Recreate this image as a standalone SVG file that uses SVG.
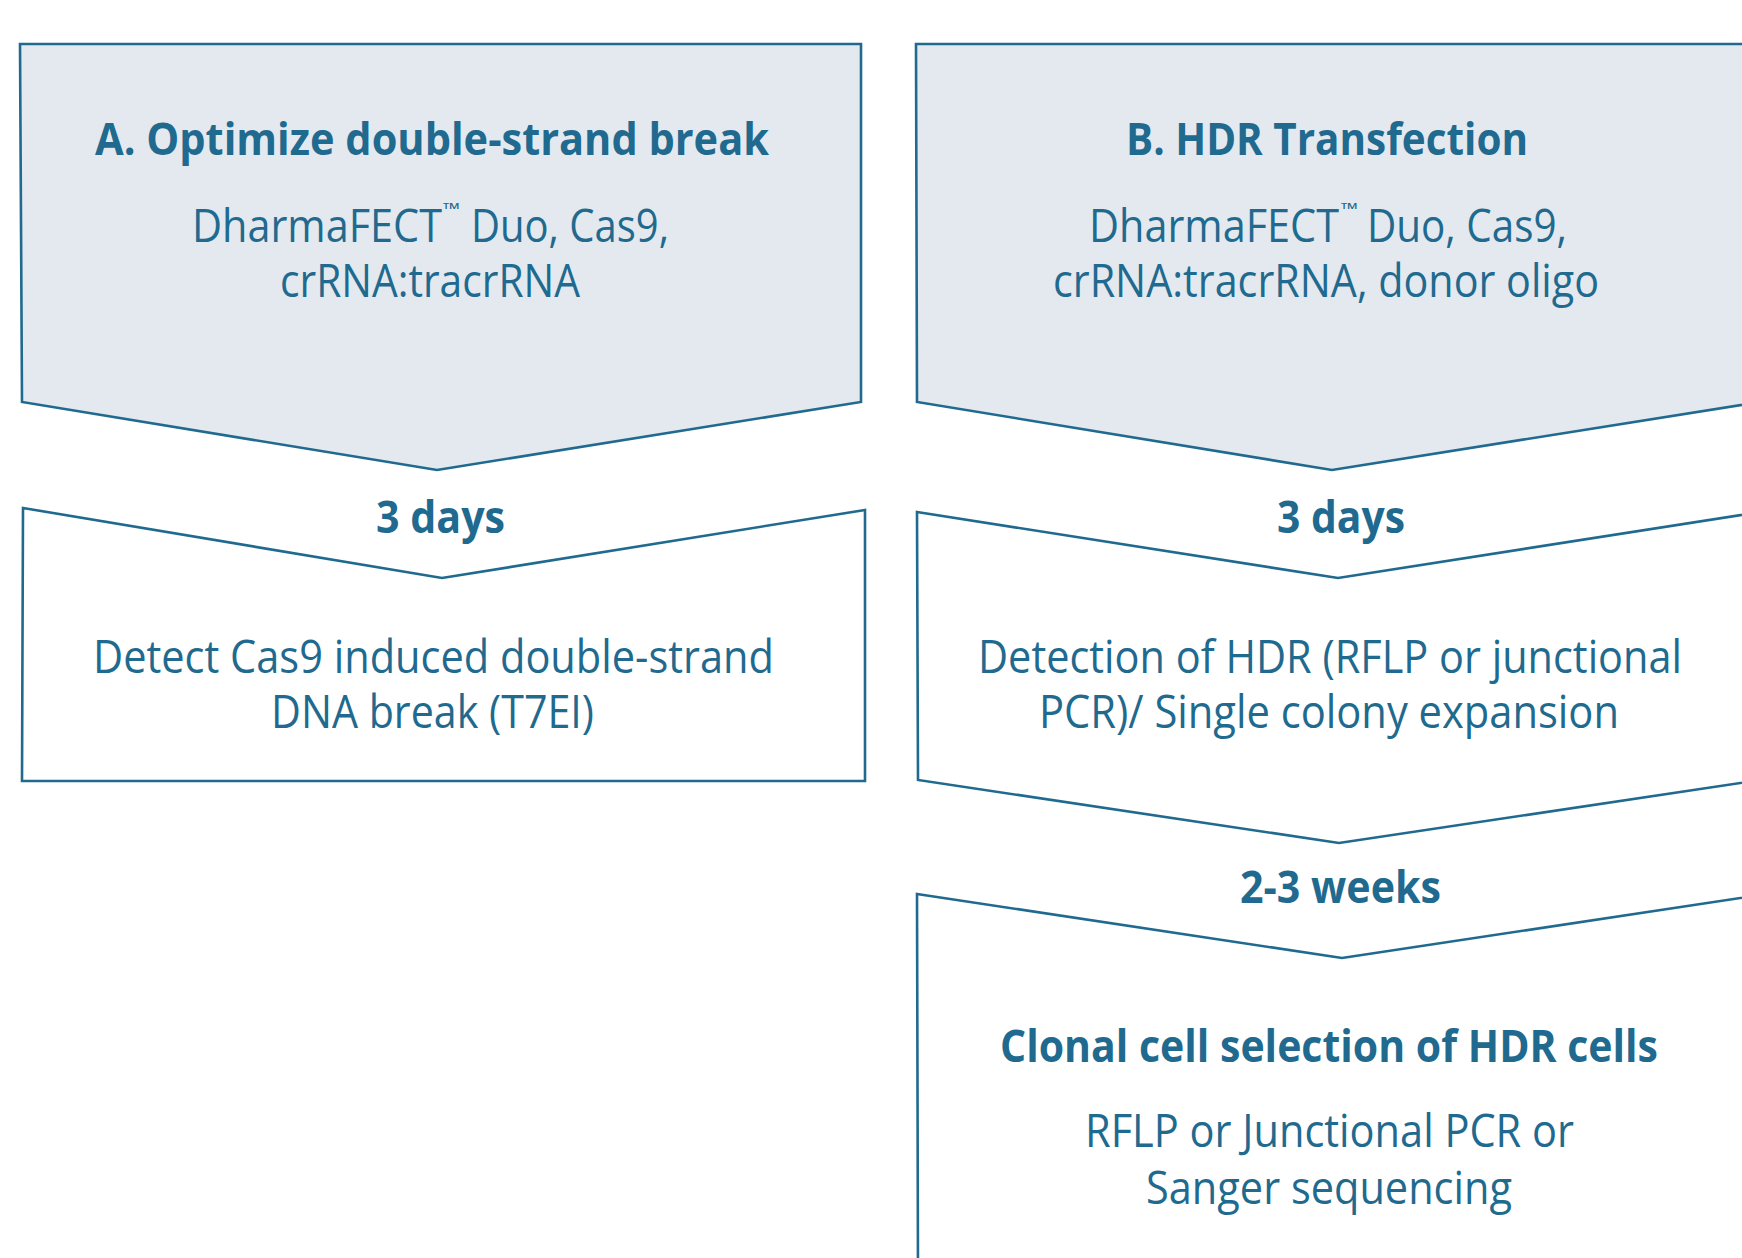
<svg xmlns="http://www.w3.org/2000/svg" width="1742" height="1258" viewBox="0 0 1742 1258">
<style>
.shape{stroke:#1f6a8e;stroke-width:2.6;stroke-linejoin:miter}
.fill{fill:#e4e9f0}
.nofill{fill:#ffffff}
text{font-family:"Open Sans","Liberation Sans",sans-serif;fill:#1f6a8e}
.b{font-weight:700;font-size:45px}
.r{font-weight:400;font-size:46px}
.tm{font-weight:400;font-size:17px}
</style>
<rect width="1742" height="1258" fill="#ffffff"/>
<g id="connectors"></g>
<g id="nodeA1">
<polygon class="shape fill" points="20,44 861,44 861,402 437,470 22,402"/>
<text class="b" x="95" y="155" textLength="674" lengthAdjust="spacingAndGlyphs">A. Optimize double-strand break</text>
<text class="r" x="192" y="242" textLength="250" lengthAdjust="spacingAndGlyphs">DharmaFECT</text>
<text class="tm" x="443" y="215" textLength="17" lengthAdjust="spacingAndGlyphs">™</text>
<text class="r" x="471" y="242" textLength="198" lengthAdjust="spacingAndGlyphs">Duo, Cas9,</text>
<text class="r" x="280" y="297" textLength="300" lengthAdjust="spacingAndGlyphs">crRNA:tracrRNA</text>
</g>
<g id="labelA">
<text class="b" x="376" y="533" textLength="129" lengthAdjust="spacingAndGlyphs">3 days</text>
</g>
<g id="nodeA2">
<polygon class="shape nofill" points="23,508 442,578 865,510 865,781 22,781"/>
<text class="r" x="93" y="673" textLength="681" lengthAdjust="spacingAndGlyphs">Detect Cas9 induced double-strand</text>
<text class="r" x="271" y="728" textLength="323" lengthAdjust="spacingAndGlyphs">DNA break (T7EI)</text>
</g>
<g id="nodeB1">
<polygon class="shape fill" points="916,44 1760,44 1760,402 1332,470 917,402"/>
<text class="b" x="1126" y="155" textLength="402" lengthAdjust="spacingAndGlyphs">B. HDR Transfection</text>
<text class="r" x="1089" y="242" textLength="250" lengthAdjust="spacingAndGlyphs">DharmaFECT</text>
<text class="tm" x="1341" y="215" textLength="17" lengthAdjust="spacingAndGlyphs">™</text>
<text class="r" x="1367" y="242" textLength="200" lengthAdjust="spacingAndGlyphs">Duo, Cas9,</text>
<text class="r" x="1053" y="297" textLength="546" lengthAdjust="spacingAndGlyphs">crRNA:tracrRNA, donor oligo</text>
</g>
<g id="labelB1">
<text class="b" x="1277" y="533" textLength="128" lengthAdjust="spacingAndGlyphs">3 days</text>
</g>
<g id="nodeB2">
<polygon class="shape nofill" points="917,512 1338,578 1760,512 1760,780 1339,843 918,780"/>
<text class="r" x="978" y="673" textLength="704" lengthAdjust="spacingAndGlyphs">Detection of HDR (RFLP or junctional</text>
<text class="r" x="1039" y="728" textLength="580" lengthAdjust="spacingAndGlyphs">PCR)/ Single colony expansion</text>
</g>
<g id="labelB2">
<text class="b" x="1240" y="903" textLength="201" lengthAdjust="spacingAndGlyphs">2-3 weeks</text>
</g>
<g id="nodeB3">
<polygon class="shape nofill" points="917,894 1342,958 1767,894 1767,1275 918,1275"/>
<text class="b" x="1000" y="1062" textLength="658" lengthAdjust="spacingAndGlyphs">Clonal cell selection of HDR cells</text>
<text class="r" x="1085" y="1147" textLength="489" lengthAdjust="spacingAndGlyphs">RFLP or Junctional PCR or</text>
<text class="r" x="1146" y="1204" textLength="366" lengthAdjust="spacingAndGlyphs">Sanger sequencing</text>
</g>
</svg>
